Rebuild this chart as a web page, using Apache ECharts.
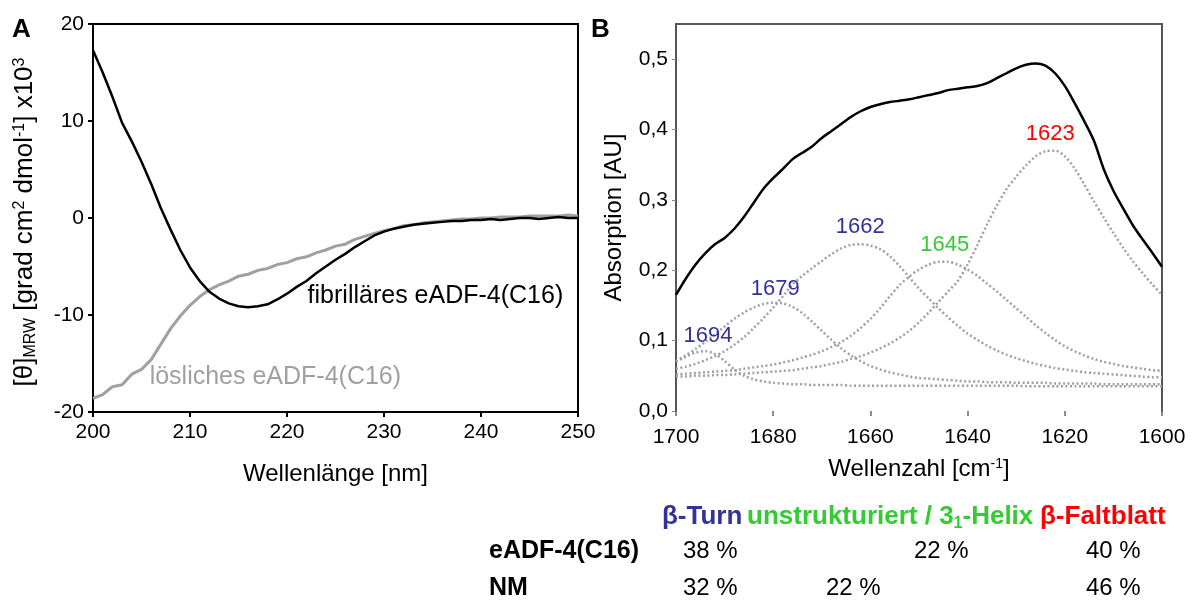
<!DOCTYPE html>
<html>
<head>
<meta charset="utf-8">
<script src="https://cdn.jsdelivr.net/npm/echarts@6/dist/echarts.min.js"></script>
<style>
  html, body { margin: 0; padding: 0; background: #fff; }
  #chart { width: 1194px; height: 601px; }
</style>
</head>
<body>
<div id="chart"></div>
<script>
// --- panel A: CD spectra ---
const waveA = [200, 201, 202, 203, 204, 205, 206, 207, 208, 209, 210, 211, 212, 213, 214, 215, 216, 217, 218, 219,
    220, 221, 222, 223, 224, 225, 226, 227, 228, 229, 230, 231, 232, 233, 234, 235, 236, 237, 238, 239,
    240, 241, 242, 243, 244, 245, 246, 247, 248, 249, 250];
const fibrillar = [17.3, 15.0, 12.5, 9.8, 7.9, 5.8, 3.5, 1.0, -1.2, -3.3, -5.1, -6.5, -7.6, -8.3, -8.8, -9.1, -9.2, -9.1, -8.9, -8.4,
    -7.8, -7.1, -6.5, -5.7, -5.0, -4.3, -3.7, -3.0, -2.4, -1.8, -1.4, -1.1, -0.9, -0.7, -0.6, -0.5, -0.4, -0.3, -0.3, -0.2,
    -0.2, -0.1, -0.2, -0.1, 0.0, 0.0, -0.1, 0.0, 0.1, 0.0, 0.0];
const soluble = [-18.6, -18.2, -17.4, -17.2, -16.1, -15.6, -14.6, -13.0, -11.4, -10.1, -9.0, -8.1, -7.4, -6.9, -6.5, -6.0, -5.8, -5.4, -5.2, -4.8,
    -4.6, -4.2, -4.0, -3.6, -3.3, -2.9, -2.7, -2.2, -1.9, -1.6, -1.3, -1.1, -0.8, -0.7, -0.5, -0.4, -0.3, -0.2, -0.1, -0.1,
    0.0, 0.0, 0.1, 0.1, 0.1, 0.2, 0.2, 0.2, 0.2, 0.3, 0.2];
const annoTextA = ['fibrilläres eADF-4(C16)', 'lösliches eADF-4(C16)'];
const annoAtA = [[235.3, -8.1], [218.8, -16.4]];

// --- panel B: FTIR amide I band + fitted components ---
const waveB = [1700, 1698, 1696, 1694, 1692, 1690, 1688, 1686, 1684, 1682, 1680, 1678, 1676, 1674, 1672, 1670, 1668, 1666, 1664, 1662,
    1660, 1658, 1656, 1654, 1652, 1650, 1648, 1646, 1644, 1642, 1640, 1638, 1636, 1634, 1632, 1630, 1628, 1626, 1624, 1622,
    1620, 1618, 1616, 1614, 1612, 1610, 1608, 1606, 1604, 1602, 1600];
const totalB = [0.165, 0.188, 0.208, 0.224, 0.237, 0.246, 0.259, 0.276, 0.296, 0.316, 0.331, 0.344, 0.358, 0.367, 0.376, 0.388, 0.398, 0.408, 0.418, 0.426,
    0.432, 0.436, 0.439, 0.441, 0.443, 0.446, 0.449, 0.452, 0.456, 0.458, 0.460, 0.462, 0.466, 0.473, 0.480, 0.487, 0.492, 0.494, 0.491, 0.480,
    0.462, 0.438, 0.412, 0.384, 0.344, 0.313, 0.288, 0.264, 0.244, 0.225, 0.205];
const band1694 = [0.070, 0.077, 0.083, 0.085, 0.081, 0.071, 0.059, 0.050, 0.045, 0.042, 0.040, 0.039, 0.038, 0.038, 0.037, 0.037, 0.037, 0.037, 0.036, 0.036,
    0.036, 0.036, 0.036, 0.036, 0.036, 0.036, 0.036, 0.036, 0.036, 0.036, 0.036, 0.036, 0.036, 0.036, 0.036, 0.036, 0.035, 0.035, 0.035, 0.035,
    0.035, 0.035, 0.035, 0.035, 0.035, 0.035, 0.035, 0.035, 0.035, 0.035, 0.035];
const band1679 = [0.071, 0.079, 0.088, 0.098, 0.109, 0.120, 0.131, 0.140, 0.147, 0.152, 0.154, 0.153, 0.148, 0.139, 0.127, 0.114, 0.101, 0.089, 0.079, 0.071,
    0.064, 0.059, 0.055, 0.052, 0.049, 0.047, 0.046, 0.045, 0.044, 0.043, 0.042, 0.042, 0.041, 0.041, 0.041, 0.040, 0.040, 0.040, 0.040, 0.039,
    0.039, 0.039, 0.039, 0.039, 0.038, 0.038, 0.038, 0.038, 0.038, 0.038, 0.038];
const band1662 = [0.060, 0.063, 0.067, 0.072, 0.078, 0.085, 0.094, 0.105, 0.118, 0.132, 0.147, 0.163, 0.180, 0.192, 0.203, 0.213, 0.223, 0.231, 0.236, 0.237,
    0.235, 0.230, 0.220, 0.206, 0.190, 0.174, 0.160, 0.146, 0.133, 0.121, 0.110, 0.101, 0.093, 0.086, 0.080, 0.075, 0.071, 0.067, 0.064, 0.061,
    0.059, 0.057, 0.055, 0.054, 0.053, 0.052, 0.051, 0.050, 0.049, 0.048, 0.048];
const band1645 = [0.052, 0.053, 0.054, 0.055, 0.056, 0.057, 0.058, 0.060, 0.062, 0.064, 0.066, 0.069, 0.072, 0.076, 0.080, 0.085, 0.091, 0.098, 0.107, 0.118,
    0.131, 0.146, 0.163, 0.179, 0.191, 0.201, 0.208, 0.212, 0.212, 0.208, 0.201, 0.192, 0.181, 0.170, 0.158, 0.146, 0.134, 0.122, 0.111, 0.101,
    0.092, 0.085, 0.079, 0.074, 0.070, 0.067, 0.064, 0.062, 0.060, 0.058, 0.057];
const band1623 = [0.049, 0.049, 0.050, 0.050, 0.051, 0.051, 0.052, 0.053, 0.054, 0.055, 0.056, 0.057, 0.058, 0.060, 0.062, 0.064, 0.067, 0.070, 0.074, 0.078,
    0.083, 0.089, 0.096, 0.104, 0.114, 0.126, 0.140, 0.155, 0.170, 0.185, 0.208, 0.236, 0.265, 0.292, 0.315, 0.333, 0.349, 0.362, 0.369, 0.370,
    0.362, 0.345, 0.322, 0.298, 0.275, 0.253, 0.232, 0.213, 0.196, 0.180, 0.165];
const peakNames = ['1694', '1679', '1662', '1645', '1623'];
const peakLabelAt = [[1693.4, 0.106], [1679.6, 0.173], [1662.1, 0.262], [1644.7, 0.236], [1623, 0.394]];

// --- table below panel B ---
const tableRows = ['eADF-4(C16)', 'NM'];
const rowTurn = ['38 %', '32 %'];
const rowUnstr = ['', '22 %'];
const rowHelix = ['22 %', ''];
const rowSheet = ['40 %', '46 %'];

const FONT = 'Liberation Sans, Arial, sans-serif';
const BLUE = '#333399', GREEN = '#33cc33', RED = '#ff0000';
const peakColors = [BLUE, BLUE, BLUE, GREEN, RED];

function pairs(xs, ys) {
    return xs.map(function (x, i) { return [x, ys[i]]; });
}

var chartDom = document.getElementById('chart');
var myChart = echarts.init(chartDom);

var bandLine = { color: '#a0a0a0', width: 2.5, type: [2, 2.5] };
var bands = [band1694, band1679, band1662, band1645, band1623];

var tableGraphics = [];
var rowY = [551, 588];
tableGraphics.push(
    { type: 'text', x: 662, y: 517, style: { text: 'β-Turn', fill: BLUE, font: 'bold 26px ' + FONT, verticalAlign: 'middle' } },
    { type: 'text', x: 747, y: 517, style: { text: 'unstrukturiert / 3{s|1}-Helix', fill: GREEN, font: 'bold 26px ' + FONT, verticalAlign: 'middle',
        rich: { s: { fontSize: 16, fontWeight: 'bold', fill: GREEN, verticalAlign: 'bottom', padding: [13, 0, 0, 0] } } } },
    { type: 'text', x: 1040, y: 517, style: { text: 'β-Faltblatt', fill: RED, font: 'bold 26px ' + FONT, verticalAlign: 'middle' } }
);
tableRows.forEach(function (name, i) {
    tableGraphics.push({ type: 'text', x: 489, y: rowY[i], style: { text: name, fill: '#000', font: 'bold 25px ' + FONT, verticalAlign: 'middle' } });
    tableGraphics.push({ type: 'text', x: 683, y: rowY[i], style: { text: rowTurn[i], fill: '#000', font: '24px ' + FONT, verticalAlign: 'middle' } });
    tableGraphics.push({ type: 'text', x: 826, y: rowY[i], style: { text: rowUnstr[i], fill: '#000', font: '24px ' + FONT, verticalAlign: 'middle' } });
    tableGraphics.push({ type: 'text', x: 914, y: rowY[i], style: { text: rowHelix[i], fill: '#000', font: '24px ' + FONT, verticalAlign: 'middle' } });
    tableGraphics.push({ type: 'text', x: 1086, y: rowY[i], style: { text: rowSheet[i], fill: '#000', font: '24px ' + FONT, verticalAlign: 'middle' } });
});

var option = {
    animation: false,
    backgroundColor: '#fff',
    textStyle: { fontFamily: FONT },
    grid: [
        { left: 93, top: 24, width: 485, height: 388, show: true, borderColor: '#000', borderWidth: 2 },
        { left: 676, top: 24, width: 486, height: 387 }
    ],
    xAxis: [
        {
            gridIndex: 0, type: 'value', min: 200, max: 250, interval: 10,
            axisLine: { show: true, onZero: false, lineStyle: { color: '#000', width: 2 } },
            axisTick: { show: true, length: 5, lineStyle: { color: '#000', width: 2 } },
            splitLine: { show: false },
            axisLabel: { color: '#000', fontSize: 21, margin: 10 },
            name: 'Wellenlänge [nm]', nameLocation: 'middle', nameGap: 50,
            nameTextStyle: { color: '#000', fontSize: 24 }
        },
        {
            gridIndex: 1, type: 'value', min: 1600, max: 1700, interval: 20, inverse: true,
            axisLine: { show: false, onZero: false },
            axisTick: { show: true, length: 5, lineStyle: { color: '#666', width: 1.5 } },
            splitLine: { show: false },
            axisLabel: { color: '#000', fontSize: 21, margin: 16, formatter: function (v) { return String(v); } },
            name: 'Wellenzahl [cm{sup|-1}]', nameLocation: 'middle', nameGap: 46,
            nameTextStyle: { color: '#000', fontSize: 24, rich: { sup: { fontSize: 14, color: '#000', verticalAlign: 'top', padding: [0, 0, 10, 0] } } }
        },
        {
            gridIndex: 1, type: 'value', min: 1600, max: 1700, inverse: true, position: 'top',
            axisLine: { show: true, onZero: false, lineStyle: { color: '#555', width: 2 } },
            axisTick: { show: false }, axisLabel: { show: false }, splitLine: { show: false }
        }
    ],
    yAxis: [
        {
            gridIndex: 0, type: 'value', min: -20, max: 20, interval: 10,
            axisLine: { show: true, onZero: false, lineStyle: { color: '#000', width: 2 } },
            axisTick: { show: true, length: 5, lineStyle: { color: '#000', width: 2 } },
            splitLine: { show: false },
            axisLabel: { color: '#000', fontSize: 21, margin: 9 }
        },
        {
            gridIndex: 1, type: 'value', min: 0, max: 0.55, interval: 0.1,
            axisLine: { show: true, onZero: false, lineStyle: { color: '#555', width: 2 } },
            axisTick: { show: true, length: 4, lineStyle: { color: '#888', width: 1 } },
            splitLine: { show: false },
            axisLabel: {
                color: '#000', fontSize: 21, margin: 8, showMaxLabel: false,
                formatter: function (v) { return v.toFixed(1).replace('.', ','); }
            },
            name: 'Absorption [AU]', nameLocation: 'middle', nameGap: 50,
            nameTextStyle: { color: '#000', fontSize: 24 }
        },
        {
            gridIndex: 1, type: 'value', min: 0, max: 0.55, position: 'right',
            axisLine: { show: true, onZero: false, lineStyle: { color: '#555', width: 2 } },
            axisTick: { show: false }, axisLabel: { show: false }, splitLine: { show: false }
        }
    ],
    series: [
        {
            type: 'line', xAxisIndex: 0, yAxisIndex: 0, data: pairs(waveA, soluble),
            showSymbol: false, lineStyle: { color: '#a0a0a0', width: 3 }, z: 2
        },
        {
            type: 'line', xAxisIndex: 0, yAxisIndex: 0, data: pairs(waveA, fibrillar),
            showSymbol: false, lineStyle: { color: '#000', width: 2.5 }, z: 3
        },
        {
            type: 'scatter', xAxisIndex: 0, yAxisIndex: 0, symbolSize: 0, silent: true,
            itemStyle: { opacity: 1 },
            data: annoTextA.map(function (t, i) {
                return { value: annoAtA[i], name: t, label: { color: i === 0 ? '#000' : '#a0a0a0' } };
            }),
            label: { show: true, position: 'inside', fontSize: 25, formatter: function (p) { return p.name; } }
        }
    ].concat(bands.map(function (b) {
        return {
            type: 'line', xAxisIndex: 1, yAxisIndex: 1, data: pairs(waveB, b),
            showSymbol: false, smooth: 0.3, lineStyle: bandLine, z: 2
        };
    })).concat([
        {
            type: 'line', xAxisIndex: 1, yAxisIndex: 1, data: pairs(waveB, totalB),
            showSymbol: false, smooth: 0.3, lineStyle: { color: '#000', width: 2.5 }, z: 3
        },
        {
            type: 'scatter', xAxisIndex: 1, yAxisIndex: 1, symbolSize: 0, silent: true,
            itemStyle: { opacity: 1 },
            data: peakNames.map(function (t, i) {
                return { value: peakLabelAt[i], name: t, label: { color: peakColors[i] } };
            }),
            label: { show: true, position: 'inside', fontSize: 22, formatter: function (p) { return p.name; } }
        }
    ]),
    graphic: [
        { type: 'text', x: 12, y: 30, style: { text: 'A', fill: '#000', font: 'bold 26px ' + FONT, verticalAlign: 'middle' } },
        { type: 'text', x: 591, y: 30, style: { text: 'B', fill: '#000', font: 'bold 26px ' + FONT, verticalAlign: 'middle' } },
        {
            type: 'text', x: 25, y: 222, rotation: Math.PI / 2,
            style: {
                text: '[θ]{sub|MRW} [grad cm{sup|2} dmol{sup|-1}] x10{sup|3}',
                fill: '#000', font: '26px ' + FONT, align: 'center', verticalAlign: 'middle',
                rich: {
                    sub: { fontSize: 16, fill: '#000', verticalAlign: 'bottom', padding: [11, 0, 0, 0] },
                    sup: { fontSize: 16, fill: '#000', verticalAlign: 'top', padding: [0, 0, 11, 0] }
                }
            }
        }
    ].concat(tableGraphics)
};
myChart.setOption(option);

window.onresize = function () {
    myChart.resize();
};
</script>
</body>
</html>
